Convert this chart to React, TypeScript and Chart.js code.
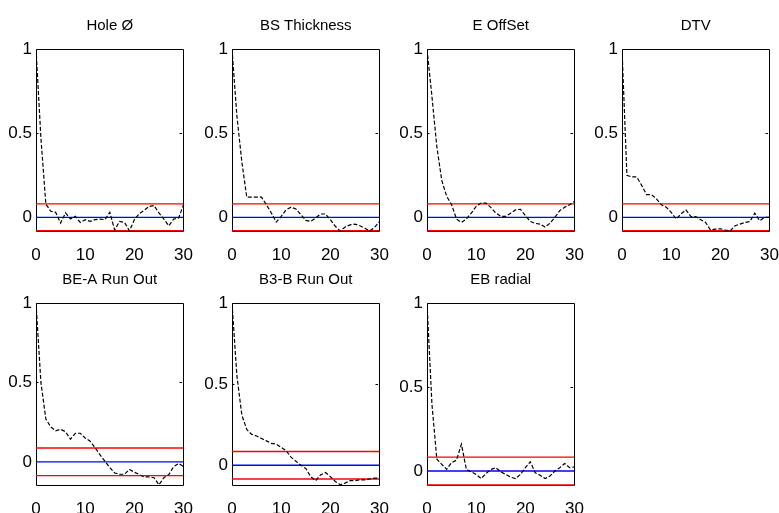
import React, { useEffect, useRef } from "react";
import { Chart, registerables } from "chart.js";
Chart.register(...registerables);

const titles = ["Hole Ø", "BS Thickness", "E OffSet", "DTV", "BE-A Run Out", "B3-B Run Out", "EB radial"];
const lags = [0, 1, 2, 3, 4, 5, 6, 7, 8, 9, 10, 11, 12, 13, 14, 15, 16, 17, 18, 19, 20, 21, 22, 23, 24, 25, 26, 27, 28, 29, 30];

const holeAcf = [1, 0.47, 0.08, 0.036, 0.03, -0.034, 0.026, -0.01, 0.006, -0.03, -0.014, -0.024, -0.014, -0.01, -0.014, 0.03, -0.075, -0.024, -0.03, -0.08, -0.014, 0.022, 0.042, 0.065, 0.07, 0.026, -0.01, -0.05, -0.01, -0.004, 0.075];
const bsAcf = [1, 0.6, 0.33, 0.12, 0.12, 0.12, 0.12, 0.075, 0.026, -0.028, 0.006, 0.045, 0.06, 0.05, 0.016, -0.018, -0.024, -0.004, 0.02, 0.02, -0.014, -0.053, -0.08, -0.057, -0.045, -0.04, -0.05, -0.065, -0.08, -0.06, -0.024];
const eAcf = [1, 0.72, 0.42, 0.22, 0.125, 0.075, -0.01, -0.03, -0.01, 0.025, 0.065, 0.085, 0.085, 0.058, 0.026, 0.006, 0.006, 0.025, 0.045, 0.048, 0.01, -0.024, -0.036, -0.04, -0.058, -0.035, 0.0, 0.04, 0.06, 0.075, 0.095];
const dtvAcf = [1, 0.25, 0.24, 0.24, 0.19, 0.135, 0.135, 0.11, 0.075, 0.06, 0.03, -0.01, 0.02, 0.045, 0.005, 0.005, -0.014, -0.03, -0.075, -0.07, -0.068, -0.075, -0.08, -0.05, -0.04, -0.03, -0.025, 0.025, -0.02, 0.0, 0.0];
const beaAcf = [1, 0.5, 0.27, 0.22, 0.195, 0.205, 0.19, 0.143, 0.18, 0.18, 0.15, 0.13, 0.09, 0.045, 0.005, -0.036, -0.07, -0.078, -0.078, -0.048, -0.065, -0.08, -0.095, -0.095, -0.1, -0.145, -0.1, -0.08, -0.03, -0.01, -0.03];
const b3bAcf = [1, 0.55, 0.31, 0.22, 0.19, 0.18, 0.165, 0.15, 0.135, 0.13, 0.11, 0.09, 0.05, 0.025, 0.0, -0.02, -0.07, -0.095, -0.06, -0.045, -0.07, -0.1, -0.12, -0.11, -0.095, -0.095, -0.09, -0.09, -0.085, -0.08, -0.08];
const ebAcf = [1, 0.4, 0.07, 0.04, 0.01, 0.05, 0.065, 0.16, 0.01, -0.005, -0.02, -0.045, -0.015, 0.01, 0.02, -0.005, -0.02, -0.036, -0.045, -0.02, 0.02, 0.055, -0.01, -0.025, -0.045, -0.03, 0.0, 0.02, 0.045, 0.02, 0.025];

const acfSeries = [holeAcf, bsAcf, eAcf, dtvAcf, beaAcf, b3bAcf, ebAcf];
const bounds = [0.08, 0.08, 0.08, 0.08, 0.087, 0.085, 0.083];
const yMins = [-0.087, -0.087, -0.087, -0.087, -0.152, -0.128, -0.089];
const yMax = 1;
const xTicks = [0, 10, 20, 30];
const yTicks = [0, 0.5, 1];
const markTick = 0.5;

// layout (style, not data)
const colLefts = [36, 232, 427, 622];
const rowTops = [49, 303];
const PLOT_W = 148;
const PLOT_H = 183;
const AXIS_W = 40;
const TOP = 40;
const RIGHT = 14;
const BOTTOM = 34;
const FONT = "'Liberation Sans', Arial, sans-serif";

const boxPlugin = {
  id: "matlabBox",
  beforeDatasetsDraw(chart: any) {
    const { ctx, chartArea: a, scales } = chart;
    ctx.save();
    ctx.strokeStyle = "#000";
    ctx.lineWidth = 1;
    const l = Math.round(a.left) + 0.5;
    const t = Math.round(a.top) + 0.5;
    const r = Math.round(a.right) - 0.5;
    const b = Math.round(a.bottom) - 0.5;
    ctx.beginPath();
    ctx.moveTo(l, t);
    ctx.lineTo(r, t);
    ctx.lineTo(r, b);
    ctx.lineTo(l, b);
    ctx.closePath();
    ctx.stroke();
    const y = Math.round(scales.y.getPixelForValue(markTick)) + 0.5;
    ctx.beginPath();
    ctx.moveTo(r - 4, y);
    ctx.lineTo(r - 1.5, y);
    ctx.moveTo(l, y);
    ctx.lineTo(l + 2, y);
    ctx.stroke();
    ctx.restore();
  },
};

function AcfPlot({ index }: { index: number }) {
  const ref = useRef<HTMLCanvasElement | null>(null);
  const col = index % 4;
  const row = Math.floor(index / 4);
  const w = PLOT_W + AXIS_W + RIGHT;
  const h = PLOT_H + TOP + BOTTOM;
  const left = colLefts[col] - AXIS_W;
  const top = rowTops[row] - TOP;

  useEffect(() => {
    if (!ref.current) return;
    const acf = acfSeries[index];
    const b = bounds[index];
    const x0 = lags[0];
    const x1 = lags[lags.length - 1];
    const chart = new Chart(ref.current, {
      type: "line",
      data: {
        datasets: [
          {
            data: lags.map((l, i) => ({ x: l, y: acf[i] })),
            borderColor: "#000000",
            borderWidth: 1.2,
            borderDash: [4, 2],
            pointRadius: 0,
            tension: 0,
          },
          {
            data: [{ x: x0, y: b }, { x: x1, y: b }],
            borderColor: "#ff0000",
            borderWidth: 1.4,
            pointRadius: 0,
          },
          {
            data: [{ x: x0, y: 0 }, { x: x1, y: 0 }],
            borderColor: "#0000ff",
            borderWidth: 1.4,
            pointRadius: 0,
          },
          {
            data: [{ x: x0, y: -b }, { x: x1, y: -b }],
            borderColor: "#ff0000",
            borderWidth: 1.4,
            pointRadius: 0,
          },
        ],
      },
      options: {
        animation: false,
        responsive: false,
        devicePixelRatio: 1,
        layout: { padding: { left: 0, top: 0, right: RIGHT, bottom: 0 } },
        plugins: {
          legend: { display: false },
          tooltip: { enabled: false },
          title: {
            display: true,
            text: titles[index],
            fullSize: false,
            color: "#000",
            font: { family: FONT, size: 15, weight: "normal", lineHeight: "20px" },
            padding: { top: 7, bottom: TOP - 27 },
          },
        },
        scales: {
          x: {
            type: "linear",
            min: xTicks[0],
            max: xTicks[xTicks.length - 1],
            grid: { display: false },
            border: { display: false },
            afterFit: (s: any) => {
              s.height = BOTTOM;
            },
            afterBuildTicks: (s: any) => {
              s.ticks = xTicks.map((v) => ({ value: v }));
            },
            ticks: {
              color: "#000",
              padding: 5,
              maxRotation: 0,
              autoSkip: false,
              font: { family: FONT, size: 17 },
              callback: (v: any) => String(v),
            },
          },
          y: {
            type: "linear",
            min: yMins[index],
            max: yMax,
            grid: { display: false, drawTicks: false },
            border: { display: false },
            afterFit: (s: any) => {
              s.width = AXIS_W;
            },
            afterBuildTicks: (s: any) => {
              s.ticks = yTicks.map((v) => ({ value: v }));
            },
            ticks: {
              color: "#000",
              padding: 4,
              autoSkip: false,
              font: { family: FONT, size: 17 },
              callback: (v: any) => String(v),
            },
          },
        },
      },
      plugins: [boxPlugin],
    } as any);
    return () => chart.destroy();
  }, [index]);

  return (
    <canvas
      ref={ref}
      width={w}
      height={h}
      style={{ position: "absolute", left, top, width: w, height: h }}
    />
  );
}

export default function App() {
  return (
    <div
      style={{
        position: "absolute",
        left: 0,
        top: 0,
        width: 779,
        height: 513,
        background: "#ffffff",
        overflow: "hidden",
      }}
    >
      {titles.map((_, i) => (
        <AcfPlot key={i} index={i} />
      ))}
    </div>
  );
}
